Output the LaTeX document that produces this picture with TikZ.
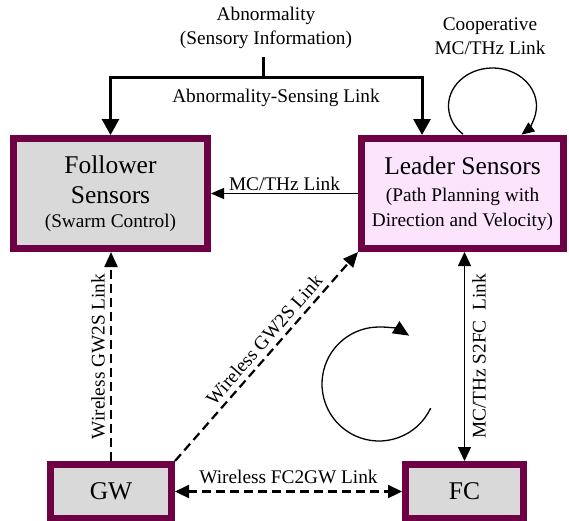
\documentclass[tikz,border=0pt]{standalone}
\usepackage{fontspec}
\setmainfont{Liberation Serif}
\usetikzlibrary{arrows.meta,calc}
\definecolor{boxborder}{RGB}{110,0,68}
\definecolor{boxgray}{RGB}{217,217,217}
\definecolor{boxpink}{RGB}{253,228,253}
\begin{document}
\begin{tikzpicture}[x=1pt,y=-1pt,
  box/.style={draw=boxborder, line width=7pt, fill=boxgray, align=center, inner sep=0pt, text=black},
  bigfont/.style={font=\fontsize{25.5}{30}\selectfont},
  lbl/.style={font=\fontsize{19.3}{24}\selectfont, inner sep=2pt, align=center},
  thickarr/.style={line width=3pt, -{Triangle[length=16pt,width=17pt]}},
  thinarr/.style={line width=1.3pt, -{Triangle[length=13pt,width=11pt]}},
  rotarr/.style={line width=1.3pt, -{Triangle[length=16pt,width=14pt]}},
  dasharr/.style={line width=2.2pt, dash pattern=on 9pt off 5pt, -{Triangle[length=15pt,width=13pt]}},
  bothtips/.style={{Triangle[length=14pt,width=13pt]}-{Triangle[length=14pt,width=13pt]}},
]
\useasboundingbox (0,0) rectangle (569,520);

% boxes
\node[box, bigfont, minimum width=194pt, minimum height=110pt] (fol) at (110.5,193.5)
  {\raisebox{0pt}{Follower}\\Sensors\\[-6pt]{\fontsize{19.3}{24}\selectfont (Swarm Control)}};
\node[box, bigfont, fill=boxpink, minimum width=202pt, minimum height=110pt] (lea) at (462.5,193.5)
  {Leader Sensors\\[-3pt]{\fontsize{19.3}{24}\selectfont (Path Planning with}\\[-5pt]{\fontsize{19.3}{24}\selectfont Direction and Velocity)}};
\node[box, bigfont, minimum width=121pt, minimum height=54pt] (gw) at (111,491.5) {GW};
\node[box, bigfont, minimum width=118pt, minimum height=54pt] (fc) at (464.5,491.5) {FC};

% abnormality-sensing link
\node[lbl] (abn) at (266,28) {Abnormality\\(Sensory Information)};
\coordinate (stub) at (263,57);
\coordinate (j) at (263,77);
\coordinate (lt) at (422,77);
\draw[line width=3pt] (stub) -- (j);
\draw[thickarr] (j) -| (fol.north);
\draw[thickarr] (j) -- (lt) -- (lea.north -| lt);
\node[lbl] (abnlink) at (276,98) {Abnormality-Sensing Link};

% MC/THz link
\draw[thinarr] (lea.west) -- (fol.east) node[lbl, midway, above] (mclbl) {MC/THz Link};

% cooperative loop
\coordinate (lc) at (492.5,106);
\draw[thinarr] ($(lc)+(132:44 and 38)$) arc[start angle=132, end angle=409, x radius=44, y radius=38];
\node[lbl] (coop) at (490,36) {Cooperative\\MC/THz Link};

% rotation sign
\coordinate (rc) at (379,384);
\draw[rotarr] ($(rc)+(25:57)$) arc[start angle=25, end angle=302, radius=57];

% wireless links
\draw[dasharr] (gw.north) -- (gw.north |- fol.south)
  node[lbl, midway, sloped, above=3pt] (gw2sa) {Wireless GW2S Link};
\draw[dasharr] (gw.north east) -- (lea.south west)
  node[lbl, pos=0.54, sloped, above=3pt] (gw2sb) {Wireless GW2S Link};
\draw[line width=2.2pt, dash pattern=on 9pt off 5pt, bothtips] (gw.east) -- (fc.west)
  node[lbl, midway, above=5pt] (fc2gw) {Wireless FC2GW Link};

% S2FC link
\draw[line width=1.3pt, bothtips] (fc.north) -- (fc.north |- lea.south)
  node[lbl, midway, sloped, below=5pt] (s2fc) {MC/THz S2FC\ \ Link};
\end{tikzpicture}
\end{document}
